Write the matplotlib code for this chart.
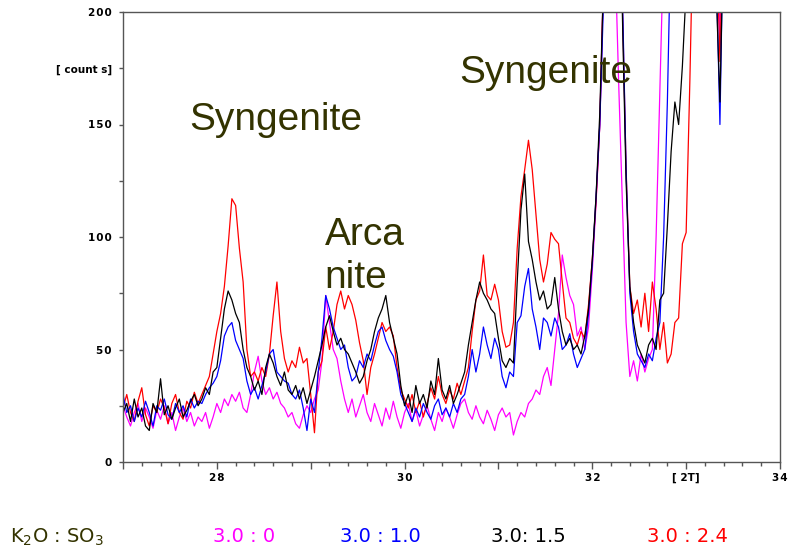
import matplotlib
matplotlib.use('Agg')
import matplotlib.pyplot as plt
import numpy as np
from matplotlib.ticker import MultipleLocator

# 2-theta sampling grid (degrees), step 0.04
two_theta = np.round(27.0 + 0.04 * np.arange(161), 2)

red_24 = [24, 30, 22, 18, 27, 33, 21, 16, 25, 22, 28, 24, 17, 26, 30, 22, 19, 27, 24, 31, 26,
          30, 34, 38, 48, 58, 66, 78, 96, 117, 114, 95, 80, 50, 38, 40, 36, 42, 38, 48, 65,
          80, 58, 46, 40, 45, 42, 51, 44, 46, 30, 13, 40, 45, 60, 50, 58, 70, 76, 68, 74,
          70, 63, 53, 45, 30, 42, 48, 55, 62, 58, 60, 56, 42, 32,
          28, 24, 30, 22, 27, 20, 26, 33, 28, 38, 30, 26, 32, 28, 35, 30, 36,
          42, 58, 72, 76, 92, 74, 72, 79, 72, 58, 51, 52, 62, 95, 118, 130, 143, 130, 110,
          90, 80, 88, 102, 99, 97, 80, 64, 62, 55, 52, 58, 55, 70, 90, 116, 150, 215, 330,
          460, 520, 420, 205, 131, 78, 66, 72, 60, 75, 58, 80, 68, 50, 62, 44, 48, 62, 64,
          97, 102, 170, 250, 330, 420, 480, 450, 320, 240, 178, 250]

blue_10 = [30, 22, 25, 18, 24, 20, 27, 22, 16, 25, 23, 28, 21, 19, 26, 22, 25, 20, 28, 24, 27,
           26, 30, 33, 35, 38, 45, 56, 60, 62, 54, 50, 46, 36, 30, 33, 28, 34, 40, 48, 50,
           40, 38, 36, 35, 30, 28, 32, 24, 14, 28, 22, 40, 55, 74, 68, 60, 55, 50, 52, 42,
           36, 38, 45, 42, 48, 45, 52, 58, 60, 54, 50, 47, 40, 30,
           26, 22, 18, 24, 20, 26, 22, 19, 25, 28, 21, 24, 20, 26, 22, 28, 30,
           38, 50, 40, 48, 60, 52, 46, 55, 50, 38, 33, 40, 38, 62, 65, 78, 86, 68, 60,
           50, 64, 62, 56, 64, 60, 50, 52, 57, 48, 42, 46, 50, 66, 88, 118, 150, 205, 320,
           450, 500, 400, 210, 130, 75, 58, 48, 45, 42, 48, 45, 55, 62, 100, 160, 240, 330,
           420, 500, 520, 480, 450, 420, 440, 400, 380, 300, 220, 150, 250]

black_15 = [22, 26, 18, 28, 20, 24, 16, 14, 26, 22, 37, 21, 25, 19, 24, 28, 20, 23, 27, 30, 25,
            28, 33, 30, 40, 42, 55, 68, 76, 72, 66, 62, 50, 42, 38, 32, 36, 30, 42, 48, 44,
            38, 34, 40, 32, 30, 34, 28, 33, 26, 32, 38, 45, 52, 60, 65, 58, 52, 55, 50, 48,
            44, 40, 35, 38, 45, 50, 58, 64, 68, 74, 62, 55, 48, 34,
            25, 30, 22, 34, 26, 30, 24, 36, 30, 46, 32, 28, 34, 26, 30, 35,
            40, 52, 62, 72, 80, 75, 72, 68, 66, 55, 45, 42, 46, 44, 80, 112, 128, 98, 90, 80,
            72, 76, 68, 70, 82, 68, 58, 52, 55, 50, 52, 48, 56, 68, 90, 118, 155, 215, 330,
            460, 510, 410, 200, 125, 78, 62, 52, 48, 44, 52, 55, 50, 72, 75, 105, 138, 160,
            150, 176, 210, 260, 330, 420, 470, 430, 400, 300, 210, 160, 240]

magenta_0 = [25, 20, 16, 22, 26, 18, 24, 20, 15, 23, 19, 25, 17, 22, 14, 20, 24, 18, 22, 16, 20,
             18, 22, 15, 20, 26, 22, 28, 25, 30, 27, 31, 24, 22, 30, 40, 47, 36, 30, 33, 28,
             31, 26, 24, 20, 22, 17, 15, 21, 25,
             22, 28, 32, 45, 74, 62, 50, 46, 36, 28,
             22, 28, 20, 25, 30, 22, 18, 26, 21, 16, 24, 19, 27, 20, 15, 22, 26, 18, 23, 16,
             21, 25, 19, 14, 22, 18, 24, 20, 15, 21, 26, 28, 22, 19, 25, 20, 17, 23, 19, 14,
             21, 24, 20, 22,
             12, 18, 22, 20, 26, 28, 32, 30, 38, 42, 34, 50, 66, 92, 82, 74, 70, 56, 60, 50,
             60, 85, 115, 150, 215, 350, 420, 230, 170, 116, 62, 38, 45, 36, 48, 40, 46, 50,
             100, 165, 230, 320, 420, 500, 540, 560, 520, 480, 450, 430, 440, 420, 380, 300,
             240, 188, 280]

series_labels = ["3.0 : 0", "3.0 : 1.0", "3.0: 1.5", "3.0 : 2.4"]
series_colors = ["#ff00ff", "#0000ff", "#000000", "#ff0000"]

y_ticks = [0, 25, 50, 75, 100, 125, 150, 175, 200]
y_ticklabels = ["0", "", "5\u200a0", "", "1\u200a0\u200a0", "", "1\u200a5\u200a0",
                "[ count s]", "2\u200a0\u200a0"]
x_ticks = [27, 28, 29, 30, 31, 32, 33, 34]
x_ticklabels = ["", "2\u200a8", "", "3\u200a0", "", "3\u200a2", "[ 2T]", "3\u200a4"]

W, H = 792, 550
fig = plt.figure(figsize=(W / 100, H / 100), dpi=100)
ax = fig.add_axes([123 / W, 88 / H, 657 / W, 450 / H])

# draw order: magenta, red, blue, black
ax.plot(two_theta, magenta_0, color=series_colors[0], lw=0.9)
ax.plot(two_theta, red_24, color=series_colors[3], lw=0.9)
ax.plot(two_theta, blue_10, color=series_colors[1], lw=0.9)
ax.plot(two_theta, black_15, color=series_colors[2], lw=0.9)

ax.set_xlim(27, 34)
ax.set_ylim(0, 200)

for s in ax.spines.values():
    s.set_color("#555555")
    s.set_linewidth(1.0)

ax.set_yticks(y_ticks)
ax.set_yticklabels(y_ticklabels)
ax.set_xticks(x_ticks)
ax.set_xticklabels(x_ticklabels)
ax.xaxis.set_minor_locator(MultipleLocator(0.2))
ax.tick_params(axis="y", direction="out", length=3, width=1, color="#555555",
               labelcolor="black", pad=5, labelsize=7.5)
ax.tick_params(axis="x", which="major", direction="out", length=5, width=1, color="#555555",
               labelcolor="black", pad=3, labelsize=7.5)
ax.tick_params(axis="x", which="minor", direction="out", length=3, width=1, color="#555555")
for lbl in ax.get_yticklabels() + ax.get_xticklabels():
    lbl.set_fontweight("bold")
    lbl.set_family("DejaVu Sans")

olive = "#333300"
ann_font = dict(family="Liberation Sans", fontsize=28, color=olive, va="center", ha="left")
ax.text(27.71, 152, "Syngenite", **ann_font)
ax.text(30.585, 173, "Syngenite", **ann_font)
ax.text(29.15, 101, "Arca", **ann_font)
ax.text(29.15, 82, "nite", **ann_font)

leg_y = 1 - 537 / H
fig.text(10 / W, leg_y, "K$_2$O : SO$_3$", color=olive, fontsize=14, va="center", ha="left",
         family="DejaVu Sans")
centers = [244.5, 380.5, 528.5, 687]
for cx, lab, col in zip(centers, series_labels, series_colors):
    fig.text(cx / W, leg_y, lab, color=col, fontsize=14, va="center", ha="center",
             family="DejaVu Sans")

fig.savefig("out.png", dpi=100)
